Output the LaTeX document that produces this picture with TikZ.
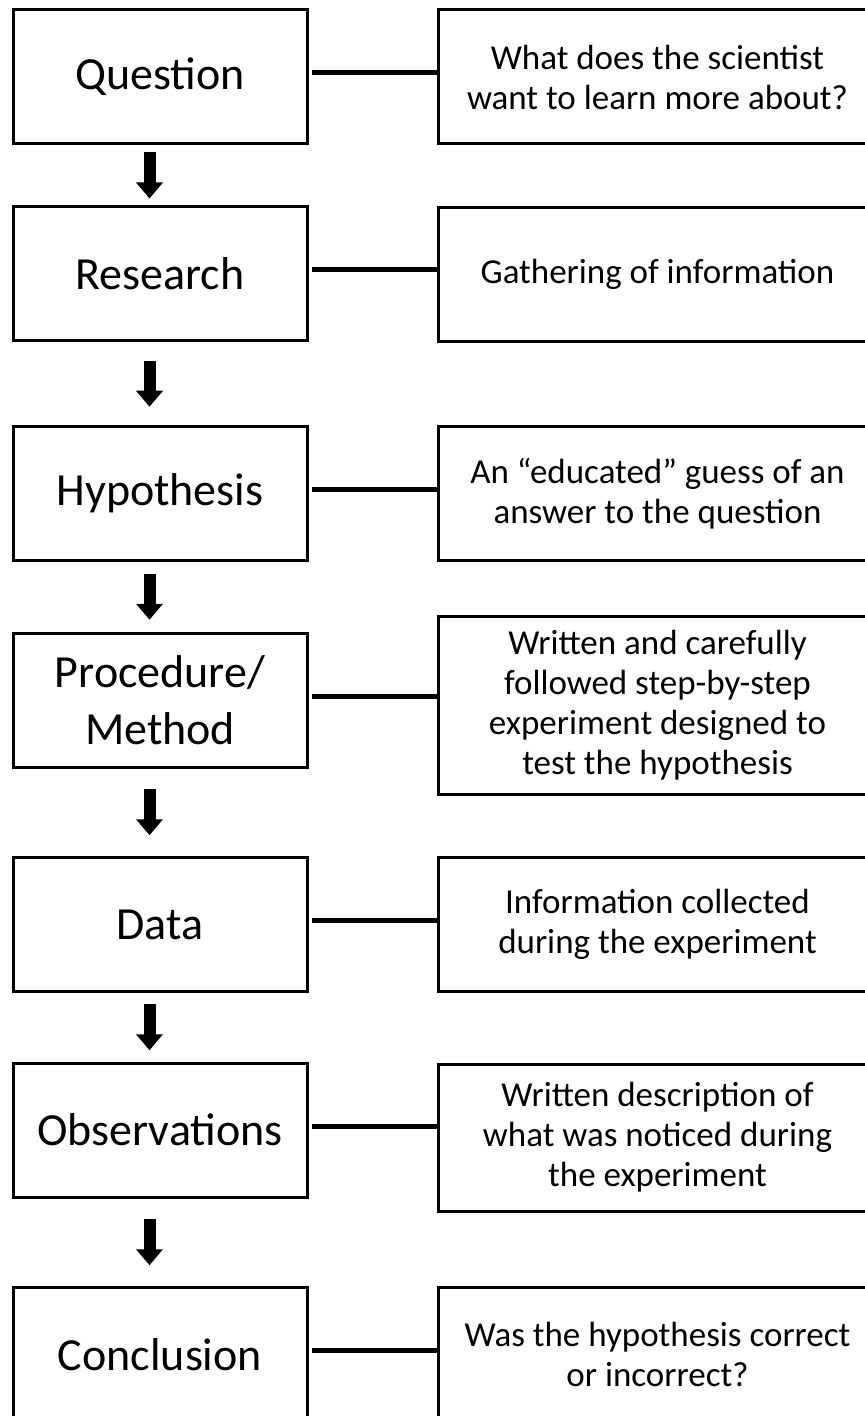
\documentclass[tikz,border=0pt]{standalone}
\usepackage{fontspec}
\setmainfont{Carlito}
\usetikzlibrary{arrows.meta,calc}
\tikzset{
  stepbox/.style={draw, line width=1.5pt, minimum width=147pt, minimum height=67pt,
    align=center, font=\fontsize{23}{28.5}\selectfont},
  notebox/.style={draw, line width=1.5pt, minimum width=219pt, minimum height=67pt,
    align=center, font=\fontsize{17.5}{20}\selectfont},
  link/.style={line width=2.5pt, shorten <=1.5pt},
  flowarrow/.style={line width=6pt, -{Triangle[width=13pt,length=8pt]}}
}

\begin{document}
\begin{tikzpicture}[x=0.5pt, y=-0.5pt]
        \useasboundingbox (0, 0) rectangle (865, 1416);
        \clip (0, 0) rectangle (865, 1416);

        % steps
        \node[stepbox] (q) at (160, 77) {Question};
        \node[stepbox] (r) at (160, 274) {Research};
        \node[stepbox] (h) at (160, 493.5) {Hypothesis};
        \node[stepbox] (p) at (160, 700) {Procedure/\\Method};
        \node[stepbox] (d) at (160, 924.5) {Data};
        \node[stepbox] (o) at (160, 1130) {Observations};
        \node[stepbox] (c) at (160, 1354.5) {Conclusion};

        % notes
        \node[notebox] (qn) at (657.5, 77) {What does the scientist\\want to learn more about?};
        \node[notebox] (rn) at (657.5, 274.5) {Gathering of information};
        \node[notebox] (hn) at (657.5, 493.5) {An “educated” guess of an\\answer to the question};
        \node[notebox, minimum height=89pt] (pn) at (657.5, 705.5) {Written and carefully\\followed step-by-step\\experiment designed to\\test the hypothesis};
        \node[notebox] (dn) at (657.5, 924.5) {Information collected\\during the experiment};
        \node[notebox, minimum height=73.5pt] (on) at (657.5, 1137.5) {Written description of\\what was noticed during\\the experiment};
        \node[notebox] (cn) at (657.5, 1354.5) {Was the hypothesis correct\\or incorrect?};

        \foreach \s in {q, r, h, p, d, o, c}
          \draw[link] ([yshift=2pt]\s.east) -- ([yshift=2pt]\s.east -| \s n.west);

        \foreach \a/\b in {q/r, r/h, h/p, p/d, d/o, o/c}
          \draw[flowarrow] ($(\a.south)!0.5!(\b.north) + (-10.5, -23)$) -- ++(0, 46);
      \end{tikzpicture}
\end{document}
